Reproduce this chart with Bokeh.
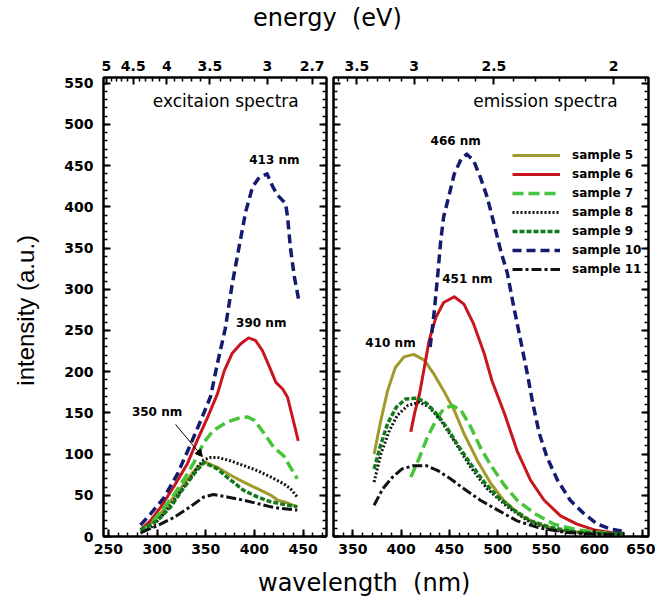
from bokeh.plotting import figure
from bokeh.layouts import column, row
from bokeh.models import (Div, Range1d, LinearAxis, SingleIntervalTicker, FixedTicker,
                          Label, Arrow, NormalHead, Legend, LegendItem)
from bokeh.embed import file_html
from bokeh.resources import INLINE

# ---------------- data ----------------
samples = ["sample 5", "sample 6", "sample 7", "sample 8", "sample 9", "sample 10", "sample 11"]

# excitation spectra (wavelength nm, intensity a.u.)
exc_s5_nm = [283, 295, 305, 315, 325, 335, 342, 350, 362, 376, 389, 403, 417, 424, 431, 444]
exc_s5 = [7, 17, 30, 45, 60, 75, 85, 90, 84, 74, 66, 58, 50, 44, 42, 36]
exc_s6_nm = [283, 293, 304, 317, 331, 341, 352, 362, 369, 377, 386, 394, 401, 408, 415, 422, 429, 434, 439, 445]
exc_s6 = [8, 19, 36, 60, 88, 116, 145, 173, 201, 222, 234, 241, 238, 226, 207, 187, 179, 169, 145, 116]
exc_s7_nm = [283, 293, 304, 317, 328, 338, 348, 358, 372, 385, 393, 400, 410, 420, 430, 437, 444]
exc_s7 = [6, 15, 30, 50, 70, 90, 114, 129, 139, 144, 145, 141, 125, 108, 98, 84, 70]
exc_s8_nm = [283, 295, 305, 315, 325, 335, 342, 348, 355, 362, 375, 389, 403, 417, 430, 437, 444]
exc_s8 = [4, 12, 25, 40, 56, 72, 85, 93, 96, 96, 92, 86, 80, 72, 64, 58, 48]
exc_s9_nm = [283, 300, 314, 328, 338, 348, 362, 376, 389, 403, 417, 430, 444]
exc_s9 = [8, 19, 36, 60, 76, 90, 82, 68, 56, 48, 42, 39, 36]
exc_s10_nm = [283, 293, 307, 321, 333, 345, 355, 362, 370, 377, 384, 391, 398, 405, 413, 419,
              424, 432, 434, 437, 441, 446]
exc_s10 = [14, 27, 47, 76, 108, 141, 170, 210, 252, 305, 350, 394, 424, 436, 440, 424,
           414, 404, 388, 350, 315, 284]
exc_s11_nm = [284, 300, 317, 334, 348, 358, 372, 389, 403, 417, 427, 444]
exc_s11 = [5, 13, 23, 36, 48, 51, 48, 44, 40, 36, 34, 32]

# emission spectra
em_s5_nm = [372, 379, 386, 394, 403, 413, 424, 434, 444, 455, 465, 479, 493, 506, 524, 541, 562, 586, 631]
em_s5 = [100, 141, 177, 205, 218, 221, 214, 197, 177, 153, 125, 92, 64, 44, 25, 15, 8, 5, 3]
em_s6_nm = [410, 414, 419, 424, 429, 436, 444, 455, 465, 475, 486, 494, 507, 520, 534, 548, 565, 582, 600, 617, 631]
em_s6 = [127, 150, 173, 205, 238, 266, 284, 291, 282, 258, 222, 189, 149, 104, 68, 44, 25, 15, 8, 5, 4]
em_s7_nm = [410, 419, 427, 436, 444, 453, 462, 472, 482, 493, 507, 520, 538, 558, 582, 606, 631]
em_s7 = [72, 96, 120, 141, 155, 159, 153, 133, 108, 86, 62, 44, 28, 15, 8, 5, 3]
em_s8_nm = [372, 379, 388, 396, 407, 419, 429, 441, 455, 472, 489, 510, 534, 562, 596, 631]
em_s8 = [66, 100, 129, 147, 159, 163, 157, 141, 116, 84, 58, 36, 17, 7, 4, 3]
em_s9_nm = [372, 379, 386, 395, 405, 417, 427, 438, 448, 458, 472, 486, 500, 517, 534, 555, 582, 631]
em_s9 = [82, 112, 137, 157, 167, 168, 161, 147, 131, 112, 88, 66, 48, 32, 19, 11, 5, 3]
em_s10_nm = [430, 434, 438, 441, 444, 450, 455, 462, 468, 475, 482, 489, 496, 503, 510, 516,
             524, 531, 536, 543, 551, 562, 575, 589, 603, 617, 631]
em_s10 = [230, 270, 319, 359, 388, 416, 440, 458, 464, 456, 436, 412, 380, 347, 319, 282,
          236, 195, 163, 125, 96, 68, 44, 28, 15, 9, 6]
em_s11_nm = [372, 381, 391, 401, 413, 426, 438, 451, 465, 482, 500, 520, 541, 569, 596, 631]
em_s11 = [38, 58, 72, 82, 86, 86, 80, 70, 58, 44, 32, 19, 11, 5, 3, 2]

# energy tick labels (eV) of the top axes
exc_energy_major = [5, 4.5, 4, 3.5, 3, 2.7]
em_energy_major = [3.5, 3, 2.5, 2]
peak_labels_exc = ["413 nm", "390 nm", "350 nm"]
peak_labels_em = ["466 nm", "451 nm", "410 nm"]

# ---------------- styles ----------------
colors = ["#a09a2c", "#c8161d", "#46c43a", "#111111", "#147a1e", "#131b6e", "#111111"]
dashes = ["solid", "solid", "11 5", "2 2", "5 2", "9 5", "10 3 3 3"]
widths = [3, 3, 3.5, 3, 3.5, 3.5, 3]

TICK_FONT = "DejaVu Sans"
HC = 1240.0


def style_axis(ax, labels=True, size="14px"):
    ax.axis_line_width = 2
    ax.axis_line_color = "black"
    ax.major_tick_in = 7
    ax.major_tick_out = 0
    ax.minor_tick_in = 4
    ax.minor_tick_out = 0
    ax.major_tick_line_width = 2
    ax.minor_tick_line_width = 1.5
    ax.major_label_text_font = TICK_FONT
    ax.major_label_text_font_style = "bold"
    if labels:
        ax.major_label_text_color = "black"
        ax.major_label_text_font_size = size
    else:
        ax.major_label_text_color = None
        ax.major_label_text_font_size = "1px"
        ax.major_label_standoff = 0


def energy_axis(majors, lo, hi):
    ticks = [round(HC / e, 4) for e in majors]
    minors = []
    e = 1.5
    while e < 6.0:
        nm = HC / e
        if lo <= nm <= hi and all(abs(e - m) > 1e-6 for m in majors):
            minors.append(round(nm, 4))
        e = round(e + 0.1, 2)
    ax = LinearAxis(ticker=FixedTicker(ticks=ticks, minor_ticks=minors),
                    major_label_overrides={t: ("%g" % m) for t, m in zip(ticks, majors)})
    style_axis(ax)
    ax.major_label_standoff = 7
    return ax


def make_fig(width, xr, bl, br, ylabels):
    p = figure(width=width, height=526, x_range=Range1d(*xr), y_range=Range1d(0, 557),
               output_backend="svg", toolbar_location=None,
               min_border_left=bl, min_border_right=br, min_border_top=37, min_border_bottom=30)
    p.grid.visible = False
    p.outline_line_color = "black"
    p.outline_line_width = 2
    p.background_fill_color = "white"
    p.border_fill_color = "white"
    p.xaxis.ticker = SingleIntervalTicker(interval=50, num_minor_ticks=5)
    p.yaxis.ticker = SingleIntervalTicker(interval=50, num_minor_ticks=5)
    style_axis(p.xaxis[0])
    p.xaxis.major_label_standoff = 7
    style_axis(p.yaxis[0], labels=ylabels)
    if ylabels:
        p.yaxis.major_label_standoff = 10
    ax_r = LinearAxis(ticker=SingleIntervalTicker(interval=50, num_minor_ticks=5))
    style_axis(ax_r, labels=False)
    p.add_layout(ax_r, "right")
    return p


# ---------------- left: excitation ----------------
xl = (245, 474)
pl = make_fig(329, xl, 103, 3, True)
pl.add_layout(energy_axis(exc_energy_major, *xl), "above")
pl.yaxis[0].axis_label = "intensity  (a.u.)"
pl.yaxis[0].axis_label_text_font = "Liberation Sans"
pl.yaxis[0].axis_label_text_font_size = "24px"
pl.yaxis[0].axis_label_text_font_style = "normal"
pl.yaxis[0].axis_label_text_color = "black"
pl.yaxis[0].axis_label_standoff = 22

exc = [(exc_s5_nm, exc_s5), (exc_s6_nm, exc_s6), (exc_s7_nm, exc_s7), (exc_s8_nm, exc_s8),
       (exc_s9_nm, exc_s9), (exc_s10_nm, exc_s10), (exc_s11_nm, exc_s11)]
for (xs, ys), c, d, w in zip(exc, colors, dashes, widths):
    pl.line(xs, ys, line_color=c, line_dash=d, line_width=w, line_join="round")

lbl_kw = dict(text_font=TICK_FONT, text_font_style="bold", text_font_size="12px",
              text_align="center", text_baseline="middle", text_color="black")
title_kw = dict(text_font=TICK_FONT, text_font_size="17px", text_align="right",
                text_baseline="middle", text_color="black")
pl.add_layout(Label(x=420.5, y=457, text=peak_labels_exc[0], **lbl_kw))
pl.add_layout(Label(x=407, y=259, text=peak_labels_exc[1], **lbl_kw))
pl.add_layout(Label(x=300, y=150.5, text=peak_labels_exc[2], **lbl_kw))
pl.add_layout(Arrow(x_start=319, y_start=136, x_end=346.5, y_end=97, line_width=1,
                    end=NormalHead(size=7, fill_color="black", line_color="black")))
pl.add_layout(Label(x=445.5, y=529, text="excitaion spectra", **title_kw))

# ---------------- right: emission ----------------
xr = (330, 656)
pr = make_fig(326, xr, 4, 7, False)
pr.add_layout(energy_axis(em_energy_major, *xr), "above")

em = [(em_s5_nm, em_s5), (em_s6_nm, em_s6), (em_s7_nm, em_s7), (em_s8_nm, em_s8),
      (em_s9_nm, em_s9), (em_s10_nm, em_s10), (em_s11_nm, em_s11)]
items = []
for (xs, ys), c, d, w, name in zip(em, colors, dashes, widths, samples):
    r = pr.line(xs, ys, line_color=c, line_dash=d, line_width=w, line_join="round")
    items.append(LegendItem(label=name, renderers=[r]))

legend = Legend(items=items, location=(179, 259), glyph_width=48, glyph_height=16,
                label_height=16, spacing=3, padding=0, margin=0, label_standoff=12,
                label_text_font=TICK_FONT, label_text_font_style="bold",
                label_text_font_size="12px", label_text_color="black",
                background_fill_alpha=0, border_line_alpha=0)
pr.add_layout(legend)

pr.add_layout(Label(x=456.5, y=480.5, text=peak_labels_em[0], **lbl_kw))
pr.add_layout(Label(x=468.5, y=312, text=peak_labels_em[1], **lbl_kw))
pr.add_layout(Label(x=389, y=235, text=peak_labels_em[2], **lbl_kw))
pr.add_layout(Label(x=624, y=529, text="emission spectra", **title_kw))

# ---------------- titles ----------------
top = Div(text='<div style="margin-left:253px;font-family:\'DejaVu Sans\';font-size:24px;'
               'white-space:pre;line-height:36px;color:black;">energy  (eV)</div>',
          width=655, height=40, margin=(0, 0, 0, 0))
bottom = Div(text='<div style="margin-left:258px;font-family:\'DejaVu Sans\';font-size:24px;'
                  'white-space:pre;line-height:34px;color:black;">wavelength  (nm)</div>',
             width=655, height=42, margin=(0, 0, 0, 0))

layout = column(top, row(pl, pr, spacing=0), bottom, spacing=0)
open("out.html", "w").write(file_html(layout, INLINE))
